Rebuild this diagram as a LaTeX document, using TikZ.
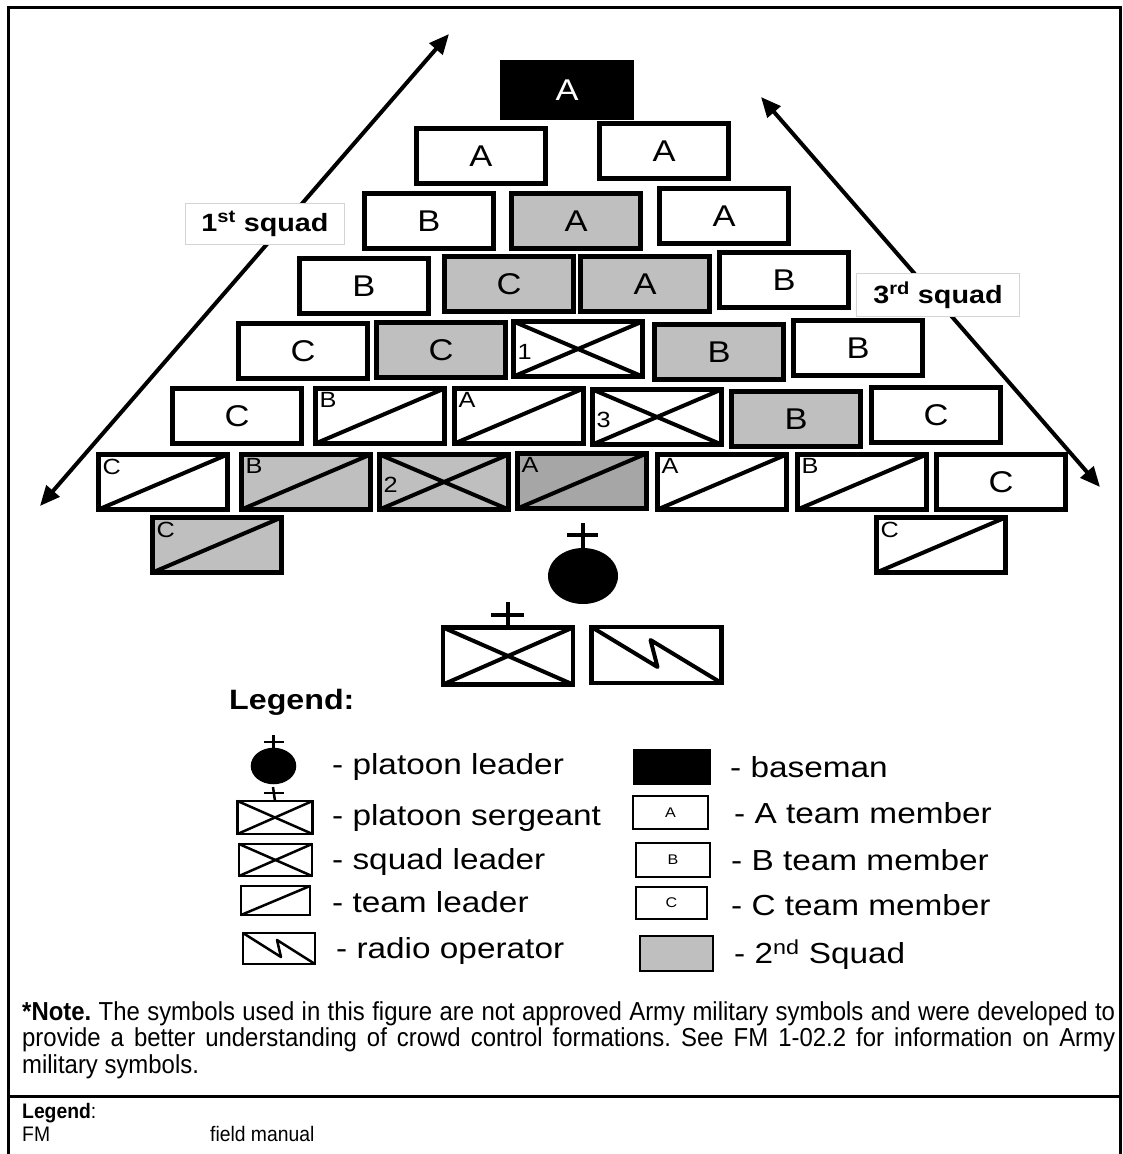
\documentclass[tikz,border=0pt]{standalone}
\usepackage{fontspec}
\setmainfont{Liberation Sans}[FakeStretch=1.15]
\newfontfamily\notefont{Liberation Sans}[FakeStretch=0.92]
\usepackage{tikz}
\usetikzlibrary{arrows.meta,calc,shapes.geometric}
\definecolor{sqgray}{HTML}{BFBFBF}
\definecolor{tlgray}{HTML}{A6A6A6}
\definecolor{tagline}{HTML}{D4D4D4}

\begin{document}
\frenchspacing
\begin{tikzpicture}[x=1pt,y=-1pt,
  mbr/.style={draw, line width=4.5pt, minimum width=129pt, minimum height=55pt,
              inner sep=0pt, outer sep=0pt, font=\fontsize{30}{30}\selectfont},
  sq2/.style={mbr, fill=sqgray},
  basebox/.style={mbr, fill=black, text=white},
  ltag/.style={font=\fontsize{22}{22}\selectfont, anchor=north west, inner sep=4pt},
  lnum/.style={font=\fontsize{22}{22}\selectfont, anchor=west, inner sep=4pt, yshift=-3pt},
  diag/.style={line width=4pt, line join=round},
  sqtag/.style={draw=tagline, line width=0.8pt, fill=white, minimum width=159pt,
                minimum height=41pt, font=\fontsize{25}{25}\selectfont\bfseries},
  flank/.style={line width=4pt, {Triangle[length=20pt,width=17pt]}-{Triangle[length=20pt,width=17pt]}},
  icon/.style={draw, line width=2.5pt, inner sep=0pt, outer sep=0pt, font=\fontsize{14}{14}\selectfont},
  iconln/.style={line width=2.5pt, line join=round},
  legtxt/.style={anchor=west, inner sep=0pt, font=\fontsize{29}{29}\selectfont},
]
\useasboundingbox (0,0) rectangle (1122,1154);
% frame
\draw[line width=3pt] (8,1154) -- (8,7) -- (1120,7) -- (1120,1154);
\draw[line width=3pt] (8,1096) -- (1120,1096);

% squad arrows
\coordinate (s1lo) at (40,506);
\coordinate (s1hi) at (449,34);
\coordinate (s3hi) at (761,97);
\coordinate (s3lo) at (1100,487);
\draw[flank] (s1lo) -- (s1hi);
\draw[flank] (s3hi) -- (s3lo);
\node[sqtag] (t1) at (265,224) {1\textsuperscript{st} squad};
\node[sqtag, minimum width=163pt, minimum height=43pt] (t3) at (938,295) {3\textsuperscript{rd} squad};

% formation
\node[basebox] (b0) at (567,90) {A};
\node[mbr] (r1a) at (481,156) {A};
\node[mbr] (r1b) at (664,151) {A};
\node[mbr] (r2a) at (429,221) {B};
\node[sq2] (r2b) at (576,221) {A};
\node[mbr] (r2c) at (724,216) {A};
\node[mbr] (r3a) at (364,286) {B};
\node[sq2] (r3b) at (509,284) {C};
\node[sq2] (r3c) at (645,284) {A};
\node[mbr] (r3d) at (784,280) {B};
\node[mbr] (r4a) at (303,351) {C};
\node[sq2] (r4b) at (441,350) {C};
\node[mbr, label={[lnum]west:1}] (r4c) at (578,349) {};
\node[sq2] (r4d) at (719,352) {B};
\node[mbr] (r4e) at (858,348) {B};
\node[mbr] (r5a) at (237,416) {C};
\node[mbr, label={[ltag]north west:B}] (r5b) at (380,416) {};
\node[mbr, label={[ltag]north west:A}] (r5c) at (519,416) {};
\node[mbr, label={[lnum]west:3}] (r5d) at (657,417) {};
\node[sq2] (r5e) at (796,419) {B};
\node[mbr] (r5f) at (936,415) {C};
\node[mbr, label={[ltag]north west:C}] (r6a) at (163,482) {};
\node[sq2, label={[ltag]north west:B}] (r6b) at (306,482) {};
\node[sq2, label={[lnum]west:2}] (r6c) at (444,482) {};
\node[mbr, fill=tlgray, label={[ltag]north west:A}] (r6d) at (582,481) {};
\node[mbr, label={[ltag]north west:A}] (r6e) at (722,482) {};
\node[mbr, label={[ltag]north west:B}] (r6f) at (862,482) {};
\node[mbr] (r6g) at (1001,482) {C};
\node[sq2, label={[ltag]north west:C}] (r7a) at (217,545) {};
\node[mbr, label={[ltag]north west:C}] (r7b) at (941,545) {};

% platoon HQ
\node[ellipse, fill=black, minimum width=70pt, minimum height=56pt, inner sep=0pt] (pl) at (583,576) {};
\draw[diag] (pl.north) -- (583,523);
\draw[diag] (567,535) -- (598,535);
\node[mbr, minimum width=130pt, minimum height=57pt] (sgt) at (508,656) {};
\draw[diag] (sgt.north) -- (508,602);
\draw[diag] (491,615) -- (524,615);
\node[mbr, minimum width=130pt, minimum height=56pt] (rto) at (656.5,655) {};
\draw[diag] (rto.north west) -- ($(rto.center)+(1,12)$) -- ($(rto.center)+(-6,-15)$) -- (rto.south east);

\foreach \n in {r5b,r5c,r6a,r6b,r6d,r6e,r6f,r7a,r7b}
  \draw[diag] (\n.south west) -- (\n.north east);
\foreach \n in {r4c,r5d,r6c,sgt} {
  \draw[diag] (\n.south west) -- (\n.north east);
  \draw[diag] (\n.north west) -- (\n.south east);
}

% legend
\node[anchor=west, inner sep=0pt, font=\fontsize{28}{28}\selectfont\bfseries] (lghd) at (229,702) {Legend:};
\node[icon, ellipse, fill=black, minimum width=43pt, minimum height=34pt] (lgpl) at (273.5,766) {};
\draw[iconln] (lgpl.north) -- (273.5,735);
\draw[iconln] (264,742) -- (284,742);
\node[icon, minimum width=75pt, minimum height=33pt] (lgsgt) at (275,817.5) {};
\draw[iconln] (lgsgt.north) -- (273,787);
\draw[iconln] (264,793) -- (284,793);
\node[icon, minimum width=73pt, minimum height=32pt] (lgsl) at (275.5,860) {};
\node[icon, minimum width=69pt, minimum height=29pt] (lgtl) at (275.5,900.5) {};
\node[icon, minimum width=72pt, minimum height=31pt] (lgrto) at (279,948.5) {};
\foreach \n in {lgsgt,lgsl} {
  \draw[iconln] (\n.south west) -- (\n.north east);
  \draw[iconln] (\n.north west) -- (\n.south east);
}
\draw[iconln] (lgtl.south west) -- (lgtl.north east);
\draw[iconln] (lgrto.north west) -- ($(lgrto.center)+(2,8.5)$) -- ($(lgrto.center)+(-2,-8.5)$) -- (lgrto.south east);
\node[legtxt] (xpl) at (332,767) {- platoon leader};
\node[legtxt] (xsgt) at (332,818) {- platoon sergeant};
\node[legtxt] (xsl) at (332,862) {- squad leader};
\node[legtxt] (xtl) at (332,902) {- team leader};
\node[legtxt] (xrto) at (336,951) {- radio operator};

\node[icon, fill=black, minimum width=76pt, minimum height=34pt] (lgbase) at (672,767) {};
\node[icon, minimum width=75pt, minimum height=33pt] (lga) at (670.5,812.5) {A};
\node[icon, minimum width=74pt, minimum height=34pt] (lgb) at (673,860) {B};
\node[icon, minimum width=71pt, minimum height=32pt] (lgc) at (671.5,903) {C};
\node[icon, fill=sqgray, minimum width=73pt, minimum height=35pt] (lgsq) at (676.5,953.5) {};
\node[legtxt] (xbase) at (730,767) {- baseman};
\node[legtxt] (xa) at (734,813) {- A team member};
\node[legtxt] (xb) at (731,860) {- B team member};
\node[legtxt] (xc) at (731,905) {- C team member};
\node[legtxt] (xsq) at (734,955) {- 2\textsuperscript{nd} Squad};

% note
\node[anchor=north west, inner sep=0pt, text width=1093pt, align=justify,
      font=\notefont\fontsize{26}{26.5}\selectfont] (note) at (22,1001)
  {\textbf{*Note.} The symbols used in this figure are not approved Army military symbols and were developed to\linebreak
   provide a better understanding of crowd control formations. See FM 1-02.2 for information on Army\linebreak
   military symbols.};
\node[anchor=west, inner sep=0pt, font=\notefont\fontsize{21}{21}\selectfont] (abhd) at (22,1113) {\textbf{Legend}:};
\node[anchor=west, inner sep=0pt, font=\notefont\fontsize{21}{21}\selectfont] (abfm) at (22,1134) {FM};
\node[anchor=west, inner sep=0pt, font=\notefont\fontsize{21}{21}\selectfont] (abfmx) at (210,1134) {field manual};
\end{tikzpicture}
\end{document}
